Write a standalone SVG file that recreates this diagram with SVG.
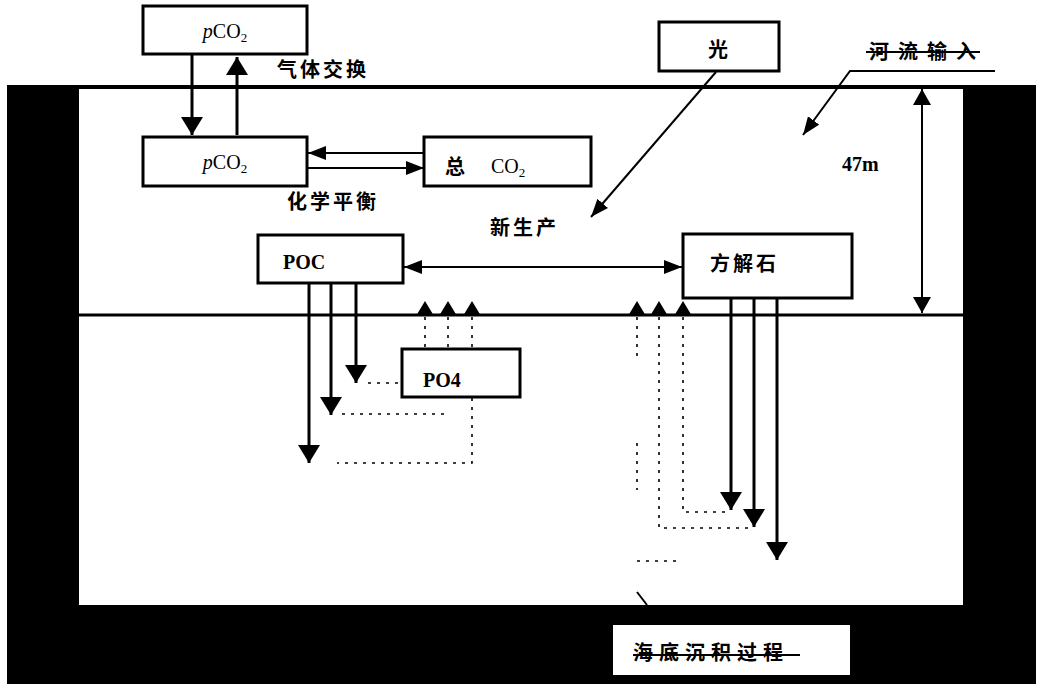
<svg xmlns="http://www.w3.org/2000/svg" width="1043" height="684" viewBox="0 0 1043 684">
<style>
.box{fill:#fff;stroke:#000;stroke-width:3}
.cn{font-family:"Noto Sans CJK SC","Noto Sans",sans-serif;font-weight:bold;font-size:20px;fill:#000}
.lt{font-family:"Liberation Serif","Times New Roman",serif;font-weight:bold;font-size:20px;fill:#000}
.nm{font-weight:normal;font-size:20px}
.sub{font-size:13px}
.ln{stroke:#000;stroke-width:3;fill:none}
.thin{stroke:#000;stroke-width:2;fill:none}
.dot{stroke:#000;stroke-width:1.6;fill:none;stroke-dasharray:3 6}
</style>
<defs>
<marker id="ah" markerUnits="userSpaceOnUse" markerWidth="20" markerHeight="22" refX="18" refY="11" orient="auto"><path d="M0,0 L18,11 L0,22 z" fill="#000"/></marker>
<marker id="as" markerUnits="userSpaceOnUse" markerWidth="20" markerHeight="16" refX="18" refY="7" orient="auto"><path d="M0,0 L18,7 L0,14 z" fill="#000"/></marker>
<marker id="as2" markerUnits="userSpaceOnUse" markerWidth="20" markerHeight="16" refX="18" refY="7" orient="auto-start-reverse"><path d="M0,0 L18,7 L0,14 z" fill="#000"/></marker>
<marker id="ab2" markerUnits="userSpaceOnUse" markerWidth="18" markerHeight="20" refX="16" refY="9" orient="auto-start-reverse"><path d="M0,0 L16,9 L0,18 z" fill="#000"/></marker>
</defs>
<rect width="1043" height="684" fill="#fff"/>
<g id="frame">
<rect x="7" y="85" width="1029" height="599" fill="#000"/>
<rect x="79" y="89" width="884" height="516" fill="#fff"/>
<line x1="79" y1="315" x2="963" y2="315" class="ln"/>
</g>
<g id="connectors">
<line x1="192" y1="55" x2="192" y2="135" class="ln" marker-end="url(#ah)"/>
<line x1="237" y1="135" x2="237" y2="57" class="ln" marker-end="url(#ah)"/>
<line x1="424" y1="153" x2="308" y2="153" class="thin" marker-end="url(#as)"/>
<line x1="308" y1="168" x2="424" y2="168" class="thin" marker-end="url(#as)"/>
<line x1="716" y1="72" x2="591" y2="217" class="thin" marker-end="url(#as)"/>
<polyline points="995,71 850,71 803,135" class="thin" marker-end="url(#as)"/>
<line x1="922" y1="89" x2="922" y2="313" class="thin" marker-start="url(#ab2)" marker-end="url(#ab2)"/>
<line x1="404" y1="267" x2="682" y2="267" class="thin" marker-start="url(#as2)" marker-end="url(#as2)"/>
<line x1="309" y1="284" x2="309" y2="463" class="ln" marker-end="url(#ah)"/>
<line x1="331" y1="284" x2="331" y2="415" class="ln" marker-end="url(#ah)"/>
<line x1="356" y1="284" x2="356" y2="383" class="ln" marker-end="url(#ah)"/>
<line x1="731" y1="299" x2="731" y2="510" class="ln" marker-end="url(#ah)"/>
<line x1="754" y1="299" x2="754" y2="527" class="ln" marker-end="url(#ah)"/>
<line x1="777" y1="299" x2="777" y2="560" class="ln" marker-end="url(#ah)"/>
<path d="M425,316 L416,316 L425,301 L434,316 z M448,316 L439,316 L448,301 L457,316 z M472,316 L463,316 L472,301 L481,316 z" fill="#000"/>
<path d="M637,316 L628,316 L637,301 L646,316 z M659,316 L650,316 L659,301 L668,316 z M683,316 L674,316 L683,301 L692,316 z" fill="#000"/>
<path d="M425,317 V348 M448,317 V348 M472,317 V348" class="dot"/>
<path d="M368,383 H401 M342,414 H450 M472,398 V463 H337" class="dot"/>
<path d="M637,317 V360 M637,443 V490 M659,317 V528 H754 M683,317 V512 H731 M637,561 H682" class="dot"/>
<line x1="637" y1="592" x2="647" y2="605" stroke="#000" stroke-width="2"/>
</g>
<g id="pco2-air">
<rect x="143" y="6" width="164" height="48" class="box"/>
<text x="225" y="38" text-anchor="middle" class="lt nm"><tspan font-style="italic">p</tspan>CO<tspan class="sub" dy="4">2</tspan></text>
</g>
<text x="277" y="77" class="cn" letter-spacing="3">气体交换</text>
<g id="pco2-sea">
<rect x="143" y="137" width="164" height="49" class="box"/>
<text x="225" y="169" text-anchor="middle" class="lt nm"><tspan font-style="italic">p</tspan>CO<tspan class="sub" dy="4">2</tspan></text>
</g>
<text x="287" y="209" class="cn" letter-spacing="3">化学平衡</text>
<g id="totalco2">
<rect x="424" y="137" width="167" height="49" class="box"/>
<text x="445" y="174" class="cn" font-size="18">总</text>
<text x="491" y="173" class="lt nm">CO<tspan class="sub" dy="4">2</tspan></text>
</g>
<g id="light">
<rect x="659" y="22" width="120" height="49" class="box"/>
<text x="718" y="57" text-anchor="middle" class="cn">光</text>
</g>
<g id="river">
<text x="869" y="59" class="cn" letter-spacing="9">河流输入</text>
<line x1="866" y1="52" x2="980" y2="52" stroke="#000" stroke-width="2"/>
</g>
<text x="490" y="235" class="cn" letter-spacing="3">新生产</text>
<text x="842" y="171" class="lt" font-size="18">47m</text>
<g id="poc">
<rect x="258" y="235" width="145" height="48" class="box"/>
<text x="283" y="269" class="lt">POC</text>
</g>
<g id="calcite">
<rect x="683" y="234" width="169" height="64" class="box"/>
<text x="710" y="271" class="cn" letter-spacing="3">方解石</text>
</g>
<g id="po4">
<rect x="402" y="349" width="118" height="48" class="box"/>
<text x="423" y="387" class="lt">PO4</text>
</g>
<g id="sediment">
<rect x="613" y="625" width="237" height="50" fill="#fff"/>
<text x="633" y="660" class="cn" font-size="22" letter-spacing="6">海底沉积过程</text>
<line x1="633" y1="655" x2="800" y2="655" stroke="#000" stroke-width="2"/>
</g>
</svg>
